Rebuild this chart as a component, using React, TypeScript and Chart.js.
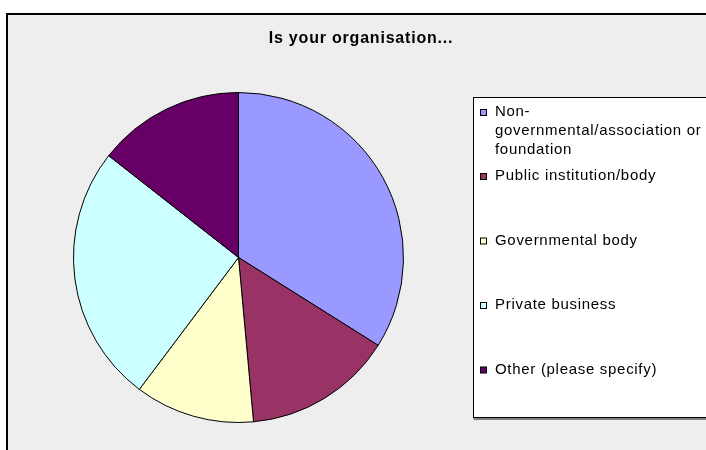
import React, { useEffect, useRef } from "react";
import { Chart, registerables } from "chart.js";

Chart.register(...registerables);

const TITLE = "Is your organisation...";
const CATEGORIES = [
  "Non-governmental/association or foundation",
  "Public institution/body",
  "Governmental body",
  "Private business",
  "Other (please specify)",
];
const PERCENTS = [33.9, 14.6, 11.7, 25.3, 14.4];
const COLORS = ["#9999FF", "#993366", "#FFFFCC", "#CCFFFF", "#660066"];

function wrapText(ctx: CanvasRenderingContext2D, text: string, maxW: number): string[] {
  // split into tokens after spaces and hyphens
  const tokens: string[] = [];
  let cur = "";
  for (const ch of text) {
    cur += ch;
    if (ch === " " || ch === "-") {
      tokens.push(cur);
      cur = "";
    }
  }
  if (cur) tokens.push(cur);
  const lines: string[] = [];
  let line = "";
  for (const t of tokens) {
    const test = line + t;
    if (line && ctx.measureText(test.trimEnd()).width > maxW) {
      lines.push(line.trimEnd());
      line = t;
    } else {
      line = test;
    }
  }
  if (line) lines.push(line.trimEnd());
  return lines;
}

const framePlugin = {
  id: "frame",
  beforeDraw(chart: any) {
    const ctx = chart.ctx as CanvasRenderingContext2D;
    const W = chart.width;
    const H = chart.height;
    ctx.save();
    ctx.fillStyle = "#FFFFFF";
    ctx.fillRect(0, 0, W, H);
    ctx.fillStyle = "#EEEEEE";
    ctx.fillRect(7, 14, W - 7, H - 14);
    ctx.strokeStyle = "#000000";
    ctx.lineWidth = 2;
    ctx.beginPath();
    ctx.moveTo(7, H);
    ctx.lineTo(7, 14);
    ctx.lineTo(W, 14);
    ctx.stroke();
    ctx.restore();
  },
  afterDraw(chart: any) {
    const ctx = chart.ctx as CanvasRenderingContext2D;
    ctx.save();
    // title
    ctx.fillStyle = "#000000";
    ctx.font = "bold 16px 'Liberation Sans', Arial, sans-serif";
    (ctx as any).letterSpacing = "0.8px";
    ctx.textAlign = "center";
    ctx.textBaseline = "alphabetic";
    ctx.fillText(TITLE, 361, 43);

    // legend box
    const bx = 473.5, by = 97.5, bw = 300, bh = 320;
    ctx.fillStyle = "#FFFFFF";
    ctx.fillRect(bx, by, bw, bh);
    ctx.fillStyle = "#808080";
    ctx.fillRect(bx, by + bh + 0.5, bw, 2);
    ctx.strokeStyle = "#000000";
    ctx.lineWidth = 1;
    ctx.strokeRect(bx, by, bw, bh);

    ctx.font = "15px 'Liberation Sans', Arial, sans-serif";
    (ctx as any).letterSpacing = "0.7px";
    ctx.textAlign = "left";
    const meta = chart.getDatasetMeta(0);
    const ds = chart.data.datasets[0];
    const baselines = [116, 180, 244.5, 309, 373.5];
    const lineH = 19;
    chart.data.labels.forEach((label: string, i: number) => {
      if (!meta.data[i]) return;
      const lines = wrapText(ctx, label, 215);
      const base = baselines[i];
      ctx.fillStyle = ds.backgroundColor[i];
      ctx.fillRect(480.5, base - 6.5, 6, 6);
      ctx.strokeStyle = "#000000";
      ctx.strokeRect(480.5, base - 6.5, 6, 6);
      ctx.fillStyle = "#000000";
      lines.forEach((ln, j) => ctx.fillText(ln, 495, base + j * lineH));
    });
    ctx.restore();
  },
};

export default function App() {
  const ref = useRef<HTMLCanvasElement | null>(null);
  useEffect(() => {
    if (!ref.current) return;
    const chart = new Chart(ref.current, {
      type: "pie",
      data: {
        labels: CATEGORIES,
        datasets: [
          {
            data: PERCENTS,
            backgroundColor: COLORS,
            borderColor: "#000000",
            borderWidth: 1,
          },
        ],
      },
      options: {
        responsive: false,
        animation: false,
        layout: {
          padding: { left: 73, right: 302, top: 92, bottom: 27 },
        },
        plugins: {
          legend: { display: false },
          title: { display: false },
          tooltip: { enabled: false },
        },
      },
      plugins: [framePlugin],
    });
    return () => chart.destroy();
  }, []);
  return (
    <div style={{ position: "absolute", left: 0, top: 0, width: 706, height: 450 }}>
      <canvas ref={ref} width={706} height={450} style={{ display: "block" }} />
    </div>
  );
}
